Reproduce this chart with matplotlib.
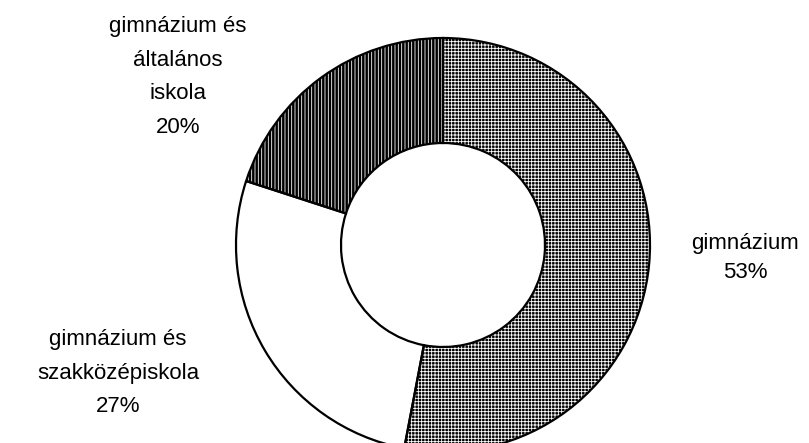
import matplotlib.pyplot as plt

# Share of schools by type
labels = ['gimnázium', 'gimnázium és\nszakközépiskola', 'gimnázium és\náltalános\niskola']
shares = [53, 27, 20]
hatches = ['+++++', None, '|||||']
fills = ['black', 'white', 'black']

plt.rcParams['font.family'] = ['Liberation Sans', 'DejaVu Sans']
plt.rcParams['hatch.linewidth'] = 0.6

W, H = 809, 443
fig = plt.figure(figsize=(W / 100, H / 100), dpi=100)
ax = fig.add_axes([0, 0, 1, 1])

cx, cy = 443, H - 245
r_out, r_in = 207, 102

# hatched fills (white hatch on black), no outline
wedges, _ = ax.pie(shares, center=(cx, cy), radius=r_out, startangle=90,
                   counterclock=False, colors=fills,
                   wedgeprops=dict(width=r_out - r_in, linewidth=0, edgecolor='white'))
for w, h in zip(wedges, hatches):
    if h:
        w.set_hatch(h)

# black outlines on top
ax.pie(shares, center=(cx, cy), radius=r_out, startangle=90, counterclock=False,
       colors=['none'] * len(shares),
       wedgeprops=dict(width=r_out - r_in, linewidth=1.6, edgecolor='black'))

# data labels
label_pos = [(745, 258), (118, 373), (178, 77)]
spacing = [1.5, 1.8, 1.8]
for lab, val, (x, y), ls in zip(labels, shares, label_pos, spacing):
    ax.text(x, H - y, f'{lab}\n{val}%', ha='center', va='center',
            fontsize=16, linespacing=ls, color='black')

ax.set_xlim(0, W)
ax.set_ylim(0, H)
ax.set_aspect('auto')
ax.axis('off')

fig.savefig('out.png', dpi=100)
